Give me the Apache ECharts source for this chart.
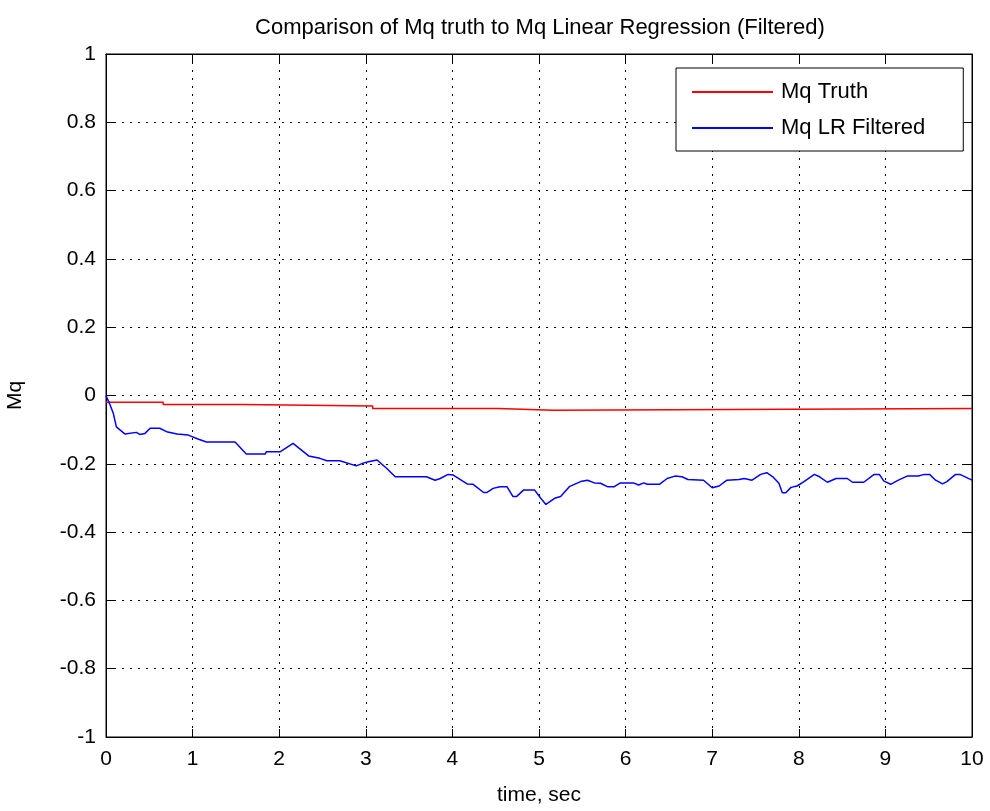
<!DOCTYPE html>
<html>
<head>
<meta charset="utf-8">
<script src="https://cdn.jsdelivr.net/npm/echarts@6/dist/echarts.min.js"></script>
<style>
  html, body { margin: 0; padding: 0; background: #fff; }
  #chart { width: 990px; height: 811px; }
</style>
</head>
<body>
<div id="chart"></div>
<script>
// 数据
const truthTime = [0, 0.66, 0.66, 1.57, 1.57, 3.08, 3.08, 4.53, 4.53, 5.16, 5.16, 10];
const truthValue = [-0.02, -0.02, -0.026, -0.026, -0.031, -0.031, -0.038, -0.038, -0.043, -0.043, -0.038, -0.038];

const lrTime = [0, 0.04, 0.085, 0.12, 0.22, 0.24, 0.35, 0.39, 0.45, 0.51, 0.62, 0.70, 0.82, 0.95,
    1.07, 1.16, 1.49, 1.62, 1.84, 1.85, 2.01, 2.16, 2.34, 2.47, 2.55, 2.70, 2.89, 2.97, 3.03, 3.13,
    3.24, 3.34, 3.70, 3.80, 3.86, 3.95, 4.01, 4.17, 4.24, 4.36, 4.40, 4.47, 4.55, 4.63, 4.70, 4.74,
    4.82, 4.95, 5.02, 5.08, 5.18, 5.25, 5.35, 5.48, 5.56, 5.64, 5.71, 5.79, 5.87, 5.94, 6.09, 6.15,
    6.21, 6.25, 6.39, 6.48, 6.57, 6.65, 6.72, 6.90, 7.00, 7.08, 7.17, 7.31, 7.37, 7.46, 7.56, 7.63,
    7.70, 7.77, 7.81, 7.85, 7.91, 7.98, 8.06, 8.18, 8.24, 8.33, 8.43, 8.56, 8.62, 8.75, 8.87, 8.93,
    8.98, 9.06, 9.15, 9.25, 9.38, 9.45, 9.51, 9.58, 9.66, 9.71, 9.81, 9.86, 10.0];
const lrValue = [0, -0.023, -0.053, -0.092, -0.113, -0.108, -0.108, -0.114, -0.111, -0.096, -0.096, -0.106, -0.113, -0.116,
    -0.128, -0.136, -0.136, -0.171, -0.171, -0.165, -0.165, -0.140, -0.177, -0.184, -0.191, -0.191, -0.206, -0.198, -0.194, -0.189,
    -0.213, -0.238, -0.238, -0.248, -0.243, -0.231, -0.233, -0.259, -0.260, -0.284, -0.284, -0.272, -0.267, -0.267, -0.296, -0.296,
    -0.277, -0.277, -0.301, -0.319, -0.301, -0.296, -0.267, -0.252, -0.248, -0.256, -0.257, -0.267, -0.267, -0.256, -0.256, -0.262,
    -0.256, -0.260, -0.260, -0.243, -0.236, -0.238, -0.246, -0.248, -0.270, -0.265, -0.248, -0.246, -0.243, -0.248, -0.231, -0.226,
    -0.238, -0.257, -0.285, -0.285, -0.269, -0.265, -0.252, -0.231, -0.238, -0.254, -0.243, -0.243, -0.254, -0.254, -0.231, -0.231,
    -0.250, -0.260, -0.248, -0.236, -0.236, -0.231, -0.231, -0.248, -0.259, -0.252, -0.231, -0.231, -0.248];

const seriesNames = ['Mq Truth', 'Mq LR Filtered'];

const FONT = '"Liberation Sans", Arial, sans-serif';

const chart = echarts.init(document.getElementById('chart'));

const dotted = { color: '#000', width: 1, type: [2, 6] };
const tick = { inside: true, length: 8, lineStyle: { color: '#000' } };

const option = {
    backgroundColor: '#fff',
    animation: false,
    title: {
        text: 'Comparison of Mq truth to Mq Linear Regression (Filtered)',
        left: 535,
        textAlign: 'center',
        top: 12,
        textStyle: { fontFamily: FONT, fontSize: 22, fontWeight: 'normal', color: '#000' }
    },
    legend: {
        orient: 'vertical',
        left: 676,
        top: 68,
        padding: [13, 38, 12, 16],
        itemGap: 14,
        itemWidth: 81,
        itemHeight: 2,
        icon: 'rect',
        backgroundColor: '#fff',
        borderColor: '#000',
        borderWidth: 1,
        borderRadius: 0,
        textStyle: { fontFamily: FONT, fontSize: 22, color: '#000', padding: [0, 0, 0, 3] },
        data: seriesNames
    },
    grid: {
        left: 106,
        right: 18,
        top: 54,
        bottom: 74,
        outerBoundsMode: 'none',
        containLabel: false,
        show: true,
        borderColor: '#000',
        borderWidth: 1
    },
    xAxis: [{
        type: 'value',
        min: 0,
        max: 10,
        interval: 1,
        name: 'time, sec',
        nameLocation: 'middle',
        nameGap: 48,
        nameTextStyle: { fontFamily: FONT, fontSize: 21, color: '#000' },
        axisLine: { onZero: false, lineStyle: { color: '#000' } },
        axisTick: tick,
        axisLabel: { fontFamily: FONT, fontSize: 21, color: '#000', margin: 12 },
        splitLine: { show: true, lineStyle: dotted }
    }, {
        type: 'value',
        position: 'top',
        min: 0,
        max: 10,
        interval: 1,
        axisLine: { onZero: false, lineStyle: { color: '#000' } },
        axisTick: tick,
        axisLabel: { show: false },
        splitLine: { show: false }
    }],
    yAxis: [{
        type: 'value',
        min: -1,
        max: 1,
        interval: 0.2,
        name: 'Mq',
        nameLocation: 'middle',
        nameGap: 80,
        nameRotate: 90,
        nameTextStyle: { fontFamily: FONT, fontSize: 21, color: '#000' },
        axisLine: { onZero: false, lineStyle: { color: '#000' } },
        axisTick: tick,
        axisLabel: {
            fontFamily: FONT, fontSize: 21, color: '#000', margin: 10,
            formatter: v => String(+v.toFixed(1))
        },
        splitLine: { show: true, lineStyle: dotted }
    }, {
        type: 'value',
        position: 'right',
        min: -1,
        max: 1,
        interval: 0.2,
        axisLine: { show: true, onZero: false, lineStyle: { color: '#000' } },
        axisTick: Object.assign({ show: true }, tick),
        axisLabel: { show: false },
        splitLine: { show: false }
    }],
    series: [{
        name: seriesNames[0],
        type: 'line',
        symbol: 'none',
        lineStyle: { color: '#ff0000', width: 1.5 },
        itemStyle: { color: '#ff0000' },
        data: truthTime.map((t, i) => [t, truthValue[i]])
    }, {
        name: seriesNames[1],
        type: 'line',
        symbol: 'none',
        lineStyle: { color: '#0000ff', width: 1.5 },
        itemStyle: { color: '#0000ff' },
        data: lrTime.map((t, i) => [t, lrValue[i]])
    }]
};

chart.setOption(option);
</script>
</body>
</html>
